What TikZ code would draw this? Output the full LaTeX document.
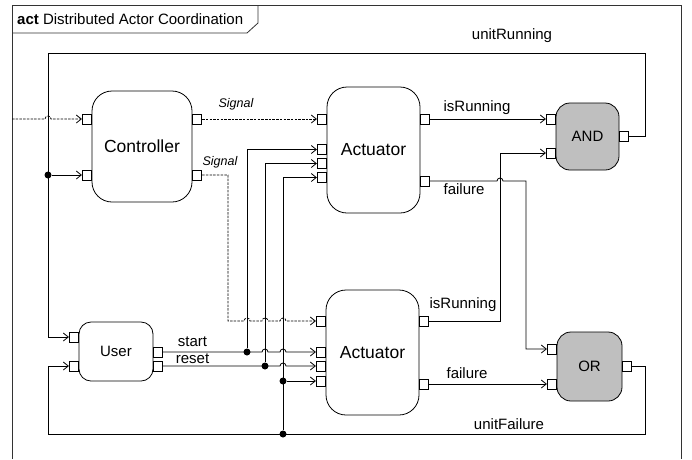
\documentclass[tikz,border=0pt]{standalone}
\usepackage{fontspec}
\setmainfont{Liberation Sans}
\usetikzlibrary{arrows.meta}

\tikzset{
  block/.style={draw, line width=0.8pt, rounded corners=20pt, fill=white,
    font=\fontsize{17.5}{21}\selectfont},
  gate/.style={draw, line width=0.8pt, rounded corners=14pt, fill=black!25,
    font=\fontsize{15}{18}\selectfont},
  port/.style={draw, line width=0.7pt, fill=white, minimum width=9pt,
    minimum height=10pt, inner sep=0pt},
  dot/.style={circle, fill, minimum size=7pt, inner sep=0pt},
  wire/.style={line width=0.8pt},
  sig/.style={line width=0.8pt, dash pattern=on 2.5pt off 1.2pt, black},
  flow/.style={-{Straight Barb[length=5pt,width=8pt]}},
  lbl/.style={inner sep=0pt, font=\fontsize{15}{18}\selectfont},
  siglbl/.style={inner sep=0pt, font=\fontsize{12.5}{15}\selectfont\itshape},
  hop/.style={insert path={arc (180:0:3pt)}},
}

\begin{document}
\begin{tikzpicture}[x=1pt, y=-1pt]
    \useasboundingbox (0,0) rectangle (692,459);
    \fill[white] (0,0) rectangle (692,459);
    %% frame
    \draw[line width=1pt, black!80] (12,459) -- (12,5) -- (681,5) -- (681,459);
    \draw[line width=0.8pt, black!80] (12,33) -- (247,33) -- (258,23) -- (258,5);
    \node[lbl, anchor=base west] (title) at (17,24) {\textbf{act} Distributed Actor Coordination};
    %% blocks
    \node[block, minimum width=100pt, minimum height=111pt] (ctrl) at (142,146.5) {Controller};
    \node[block, minimum width=93pt, minimum height=126pt] (act1) at (373.5,150) {Actuator};
    \node[block, minimum width=93pt, minimum height=125pt] (act2) at (372.5,352.5) {Actuator};
    \node[block, minimum width=74pt, minimum height=59pt, rounded corners=12pt,
      font=\fontsize{15}{18}\selectfont] (user) at (116,351.5) {User};
    \node[gate, minimum width=63pt, minimum height=67pt] (andGate) at (587.5,136.5) {AND};
    \node[gate, minimum width=65pt, minimum height=69pt] (orGate) at (589.5,366.5) {OR};
    %% ports
    \node[port, anchor=east] (ctrlIn1) at (ctrl.west |- 0,119) {};
    \node[port, anchor=east] (ctrlIn2) at (ctrl.west |- 0,175) {};
    \node[port, anchor=west] (ctrlOut1) at (ctrl.east |- 0,119) {};
    \node[port, anchor=west] (ctrlOut2) at (ctrl.east |- 0,175) {};
    \node[port, anchor=east] (act1In1) at (act1.west |- 0,119) {};
    \node[port, anchor=east] (act1In2) at (act1.west |- 0,149.5) {};
    \node[port, anchor=east] (act1In3) at (act1.west |- 0,163.5) {};
    \node[port, anchor=east] (act1In4) at (act1.west |- 0,177.5) {};
    \node[port, anchor=west] (act1Out1) at (act1.east |- 0,119) {};
    \node[port, anchor=west] (act1Out2) at (act1.east |- 0,181) {};
    \node[port, anchor=east] (act2In1) at (act2.west |- 0,321) {};
    \node[port, anchor=east] (act2In2) at (act2.west |- 0,352) {};
    \node[port, anchor=east] (act2In3) at (act2.west |- 0,366) {};
    \node[port, anchor=east] (act2In4) at (act2.west |- 0,381) {};
    \node[port, anchor=west] (act2Out1) at (act2.east |- 0,321) {};
    \node[port, anchor=west] (act2Out2) at (act2.east |- 0,384) {};
    \node[port, anchor=east] (userIn1) at (user.west |- 0,337) {};
    \node[port, anchor=east] (userIn2) at (user.west |- 0,366) {};
    \node[port, anchor=west] (userOut1) at (user.east |- 0,352) {};
    \node[port, anchor=west] (userOut2) at (user.east |- 0,366) {};
    \node[port, anchor=east] (andIn1) at (andGate.west |- 0,119) {};
    \node[port, anchor=east] (andIn2) at (andGate.west |- 0,153) {};
    \node[port, anchor=west] (andOut) at (andGate.east |- 0,136) {};
    \node[port, anchor=east] (orIn1) at (orGate.west |- 0,349) {};
    \node[port, anchor=east] (orIn2) at (orGate.west |- 0,384) {};
    \node[port, anchor=west] (orOut) at (orGate.east |- 0,366) {};
    %% junctions
    \node[dot] (jRun) at (48,175) {};
    \node[dot] (jStart) at (247,352) {};
    \node[dot] (jReset) at (265,366) {};
    \node[dot] (jFail) at (283,434) {};
    \node[dot] (jFail2) at (283,381) {};
    \coordinate (ext) at (12,119);
    %% unitRunning loop
    \draw[wire, flow] (andOut) -| (645,53) -| (48,337) -- (userIn1);
    \draw[wire, flow] (jRun) -- (ctrlIn2);
    \node[lbl] (lblRun) at (512,36) {unitRunning};
    %% unitFailure loop
    \draw[wire, flow] (orOut) -| (645,434) -| (48,366) -- (userIn2);
    \draw[wire, flow] (jFail) |- (act1In4);
    \draw[wire, flow] (jFail2) -- (act2In4);
    \node[lbl] (lblFail) at (509,424.5) {unitFailure};
    %% signals
    \draw[sig, flow] (ext) -- (45,119) [hop] -- (ctrlIn1);
    \draw[sig, flow] (ctrlOut1) -- (act1In1);
    \node[siglbl] (lblSig1) at (236,104) {Signal};
    \draw[sig, flow] (ctrlOut2) -| (228,321) -- (244,321) [hop] -- (262,321) [hop]
      -- (280,321) [hop] -- (act2In1);
    \node[siglbl] (lblSig2) at (220,162) {Signal};
    %% start and reset
    \draw[wire, flow] (userOut1) -- (jStart.center) -- (262,352) [hop] -- (280,352) [hop] -- (act2In2);
    \draw[wire, flow] (jStart) |- (act1In2);
    \draw[wire, flow] (userOut2) -- (jReset.center) -- (280,366) [hop] -- (act2In3);
    \draw[wire, flow] (jReset) |- (act1In3);
    \node[lbl] (lblStart) at (192.5,342) {start};
    \node[lbl] (lblReset) at (192.5,358.5) {reset};
    %% actuator outputs
    \draw[wire, flow] (act1Out1) -- (andIn1);
    \node[lbl] (lblRun1) at (477,107.5) {isRunning};
    \draw[wire, flow] (act2Out1) -| (500,153) -- (andIn2);
    \node[lbl] (lblRun2) at (463,305) {isRunning};
    \draw[wire, flow] (act1Out2) -- (497,181) [hop] -| (526,349) -- (orIn1);
    \node[lbl] (lblFail1) at (464,189.5) {failure};
    \draw[wire, flow] (act2Out2) -- (orIn2);
    \node[lbl] (lblFail2) at (467,373.5) {failure};
\end{tikzpicture}
\end{document}
